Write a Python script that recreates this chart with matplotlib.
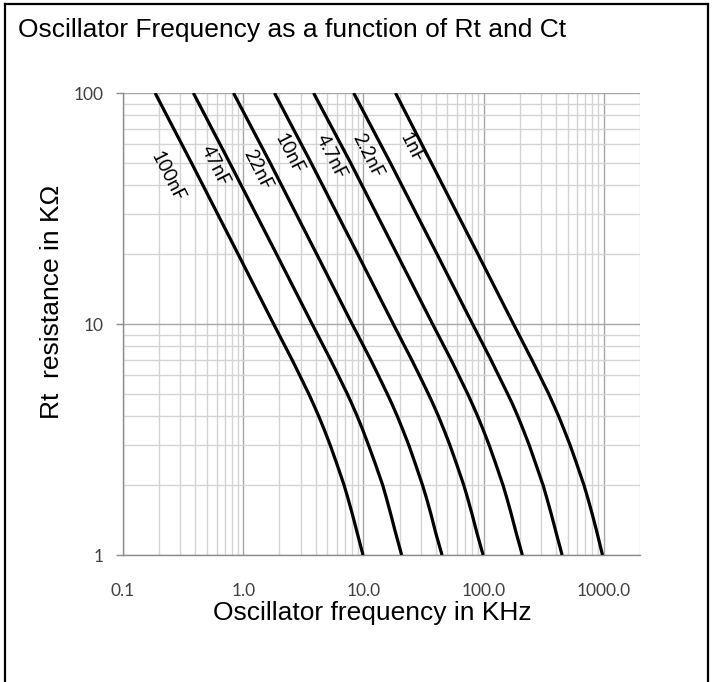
import numpy as np
from matplotlib import pyplot as plt
from matplotlib.lines import Line2D

# Rt values (kOhm) sampled along every curve
rt = [100, 50, 20, 10, 7, 6, 5, 4.5, 4, 3.5, 3, 2.5, 2, 1.75, 1.5, 1.25, 1]

# oscillator frequency (kHz) at the Rt values above
f_100nF = [0.185, 0.37, 0.91, 1.79, 2.55, 2.95, 3.5, 3.84, 4.24, 4.71, 5.28, 5.98, 6.92, 7.46, 8.10, 8.87, 9.92]
f_47nF = [0.385, 0.77, 1.9, 3.74, 5.33, 6.17, 7.32, 8.03, 8.86, 9.84, 11.0, 12.5, 14.5, 15.6, 16.9, 18.5, 20.8]
f_22nF = [0.83, 1.67, 4.1, 8.05, 11.5, 13.3, 15.75, 17.3, 19.1, 21.2, 23.8, 26.9, 31.1, 33.6, 36.5, 39.9, 45.1]
f_10nF = [1.82, 3.66, 9.0, 17.7, 25.2, 29.2, 34.6, 38.0, 42.0, 46.6, 52.3, 59.2, 68.5, 73.9, 80.2, 87.8, 99.0]
f_4n7F = [3.85, 7.8, 19.1, 37.6, 53.6, 62.0, 73.5, 80.6, 89.0, 98.9, 110.9, 125.6, 145.3, 156.7, 170.1, 186.3, 210]
f_2n2F = [8.3, 16.7, 41.1, 80.9, 115, 133, 158, 174, 192, 213, 239, 270, 313, 337, 366, 401, 450]
f_1nF = [18.5, 36.6, 90, 177, 252, 292, 347, 380, 420, 466, 523, 592, 685, 739, 802, 878, 975]

curves = [f_100nF, f_47nF, f_22nF, f_10nF, f_4n7F, f_2n2F, f_1nF]
cap_labels = ["100nF", "47nF", "22nF", "10nF", "4.7nF", "2.2nF", "1nF"]
# where each label sits (frequency, Rt)
label_f = [0.237, 0.585, 1.33, 2.42, 5.41, 10.8, 25.1]
label_r = [43.3, 48.3, 46.4, 54.5, 52.8, 53.4, 57.8]

x_ticks = [0.1, 1, 10, 100, 1000]
x_ticklabels = ["0.1", "1.0", "10.0", "100.0", "1000.0"]
y_ticks = [1, 10, 100]
y_ticklabels = ["1", "10", "100"]

W, H = 712, 682
fig = plt.figure(figsize=(W / 100, H / 100), dpi=100)
ax = fig.add_axes([123 / W, 1 - 555 / H, (640 - 123) / W, (555 - 93) / H])

ax.set_xscale('log')
ax.set_yscale('log')
ax.set_xlim(0.1, 2000)
ax.set_ylim(1, 100)

# grid: darker decade lines, light minor lines
ax.grid(True, which='minor', color='#d4d4d4', linewidth=1.0)
ax.grid(True, which='major', color='#a6a6a6', linewidth=1.0)
ax.set_axisbelow(True)

for f in curves:
    ax.plot(f, rt, color='black', linewidth=2.3, solid_capstyle='butt', zorder=3)

for lab, lf, lr in zip(cap_labels, label_f, label_r):
    ax.text(lf, lr, lab, rotation=-63, rotation_mode='anchor', ha='center', va='center',
            fontsize=13.5, family='Lato', color='black', zorder=4)

ax.set_xticks(x_ticks)
ax.set_xticklabels(x_ticklabels)
ax.set_yticks(y_ticks)
ax.set_yticklabels(y_ticklabels)
ax.tick_params(axis='x', which='both', length=0, pad=20, labelsize=12.5, labelcolor='#404040')
ax.tick_params(axis='y', which='major', length=5, width=1, color='#8c8c8c', pad=9,
               labelsize=12.5, labelcolor='#404040')
ax.tick_params(axis='y', which='minor', length=0)
for t in ax.get_xticklabels() + ax.get_yticklabels():
    t.set_family('Lato')

for s in ['top', 'right']:
    ax.spines[s].set_visible(False)
for s in ['left', 'bottom']:
    ax.spines[s].set_color('#8c8c8c')
    ax.spines[s].set_linewidth(1.0)

fig.text(18 / W, 1 - 30 / H, "Oscillator Frequency as a function of Rt and Ct",
         fontsize=19, family='Liberation Sans', va='center', ha='left')
fig.text(372 / W, 1 - 613 / H, "Oscillator frequency in KHz",
         fontsize=19, family='Liberation Sans', va='center', ha='center')
fig.text(52 / W, 1 - 302 / H, "Rt  resistance in K\u03a9", rotation=90,
         fontsize=19, family='Liberation Sans', va='center', ha='center')

# outer frame of the picture
fig.add_artist(Line2D([5 / W, 5 / W], [0, 1 - 4 / H], color='black', linewidth=1.6,
                      transform=fig.transFigure))
fig.add_artist(Line2D([5 / W, 708 / W], [1 - 4 / H, 1 - 4 / H], color='black', linewidth=1.6,
                      transform=fig.transFigure))
fig.add_artist(Line2D([708 / W, 708 / W], [0, 1 - 4 / H], color='black', linewidth=1.6,
                      transform=fig.transFigure))

fig.savefig("out.png", dpi=100)
